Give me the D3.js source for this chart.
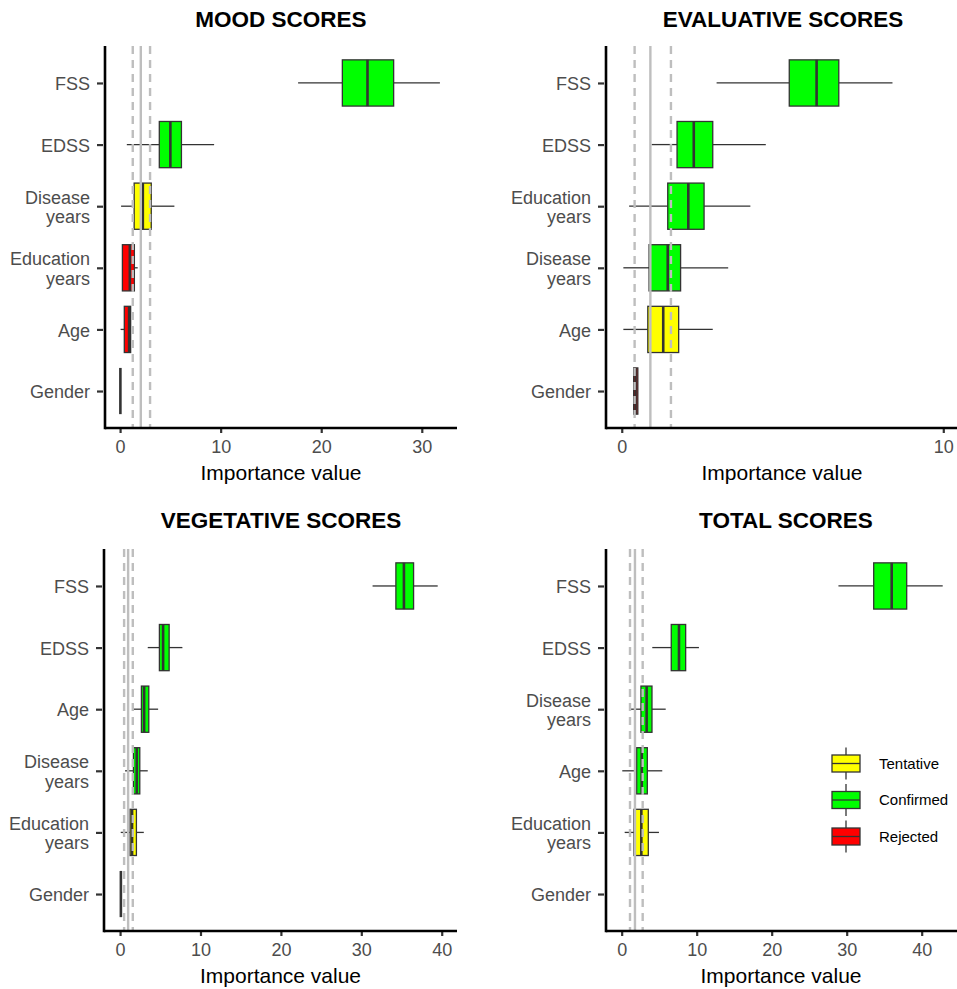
<!DOCTYPE html>
<html>
<head>
<meta charset="utf-8">
<script src="https://cdn.jsdelivr.net/npm/d3@7/dist/d3.min.js"></script>
<style>
  html, body { margin: 0; padding: 0; background: #ffffff; }
  svg { display: block; font-family: "Liberation Sans", Arial, Helvetica, sans-serif; }
</style>
</head>
<body>
<svg id="chart" width="957" height="989"></svg>
<script>
// ---- Data: Boruta importance summaries (whisker low, Q1, median, Q3, whisker high) ----

const moodTitle = "MOOD SCORES";
const moodCategories = ["FSS", "EDSS", "Disease\nyears", "Education\nyears", "Age", "Gender"];
const moodDecision = ["Confirmed", "Confirmed", "Tentative", "Rejected", "Rejected", "Rejected"];
const moodStats = [
  [17.7, 22.1, 24.6, 27.2, 31.8],
  [0.67, 3.9, 5.0, 6.1, 9.35],
  [0.1, 1.4, 2.26, 3.1, 5.4],
  [0.23, 0.23, 0.97, 1.42, 1.75],
  [0.05, 0.42, 0.9, 1.05, 1.05],
  [0.03, 0.03, 0.03, 0.03, 0.03]
];
const moodShadow = [1.26, 2.06, 2.98];   // shadow min, median, max
const moodTicks = [0, 10, 20, 30];

const evalTitle = "EVALUATIVE SCORES";
const evalCategories = ["FSS", "EDSS", "Education\nyears", "Disease\nyears", "Age", "Gender"];
const evalDecision = ["Confirmed", "Confirmed", "Confirmed", "Confirmed", "Tentative", "Rejected"];
const evalStats = [
  [2.95, 5.21, 6.06, 6.75, 8.42],
  [0.93, 1.72, 2.24, 2.83, 4.48],
  [0.23, 1.43, 2.07, 2.56, 4.0],
  [0.05, 0.85, 1.43, 1.83, 3.31],
  [0.05, 0.81, 1.29, 1.77, 2.83],
  [0.37, 0.37, 0.43, 0.5, 0.5]
];
const evalShadow = [0.40, 0.89, 1.53];
const evalTicks = [0, 10];

const vegTitle = "VEGETATIVE SCORES";
const vegCategories = ["FSS", "EDSS", "Age", "Disease\nyears", "Education\nyears", "Gender"];
const vegDecision = ["Confirmed", "Confirmed", "Confirmed", "Confirmed", "Tentative", "Rejected"];
const vegStats = [
  [31.4, 34.3, 35.3, 36.5, 39.5],
  [3.44, 4.89, 5.35, 6.1, 7.75],
  [1.58, 2.65, 2.99, 3.57, 4.73],
  [0.62, 1.66, 2.07, 2.45, 3.44],
  [0.08, 1.24, 1.49, 2.03, 2.95],
  [0.1, 0.1, 0.1, 0.1, 0.1]
];
const vegShadow = [0.5, 1.0, 1.58];
const vegTicks = [0, 10, 20, 30, 40];

const totalTitle = "TOTAL SCORES";
const totalCategories = ["FSS", "EDSS", "Disease\nyears", "Age", "Education\nyears", "Gender"];
const totalDecision = ["Confirmed", "Confirmed", "Confirmed", "Confirmed", "Tentative", "Rejected"];
const totalStats = [
  [28.9, 33.6, 36.0, 38.0, 42.8],
  [4.08, 6.61, 7.64, 8.53, 10.3],
  [1.01, 2.57, 3.33, 4.04, 5.87],
  [0.08, 2.0, 2.67, 3.42, 5.41],
  [0.4, 1.64, 2.62, 3.55, 4.97],
  null
];
const totalShadow = [1.11, 1.77, 2.8];
const totalTicks = [0, 10, 20, 30, 40];

const legendLabels = ["Tentative", "Confirmed", "Rejected"];
const decisionColors = ["#FFFF00", "#00FF00", "#FF0000"];

// ---- Drawing ----
const svg = d3.select("#chart");
const colorScale = d3.scaleOrdinal().domain(legendLabels).range(decisionColors);

const panels = [
  { title: moodTitle, cats: moodCategories, dec: moodDecision, stats: moodStats, shadow: moodShadow, ticks: moodTicks,
    x0: 105, x1: 457, dom: [-1.5, 33.5], y0: 46, y1: 428, titleY: 27, titleX: 281 },
  { title: evalTitle, cats: evalCategories, dec: evalDecision, stats: evalStats, shadow: evalShadow, ticks: evalTicks,
    x0: 606, x1: 960, dom: [-0.49, 10.52], y0: 46, y1: 428, titleY: 27, titleX: 783 },
  { title: vegTitle, cats: vegCategories, dec: vegDecision, stats: vegStats, shadow: vegShadow, ticks: vegTicks,
    x0: 104, x1: 457, dom: [-2.0, 41.9], y0: 549, y1: 931, titleY: 528, titleX: 281 },
  { title: totalTitle, cats: totalCategories, dec: totalDecision, stats: totalStats, shadow: totalShadow, ticks: totalTicks,
    x0: 606, x1: 958, dom: [-2.09, 44.84], y0: 549, y1: 931, titleY: 528, titleX: 786, legend: true }
];

const axisColor = "#000000";
const textGrey = "#4D4D4D";
const boxStroke = "#333333";

panels.forEach(p => {
  const g = svg.append("g");
  const x = d3.scaleLinear().domain(p.dom).range([p.x0, p.x1]);
  const y = d3.scalePoint().domain(p.cats).range([p.y0, p.y1]).padding(0.6);
  const step = y.step();
  const boxH = step * 0.75;

  // title
  g.append("text")
    .attr("x", p.titleX)
    .attr("y", p.titleY)
    .attr("text-anchor", "middle")
    .attr("font-size", 22.5)
    .attr("font-weight", "bold")
    .attr("fill", "#000")
    .text(p.title);

  // boxplots
  const rows = p.cats.map((c, i) => ({ cat: c, dec: p.dec[i], s: p.stats[i] })).filter(d => d.s);
  const bg = g.append("g");
  rows.forEach(d => {
    const cy = y(d.cat);
    const [lo, q1, med, q3, hi] = d.s;
    bg.append("line")
      .attr("x1", x(lo)).attr("x2", x(q1)).attr("y1", cy).attr("y2", cy)
      .attr("stroke", boxStroke).attr("stroke-width", 1.3);
    bg.append("line")
      .attr("x1", x(q3)).attr("x2", x(hi)).attr("y1", cy).attr("y2", cy)
      .attr("stroke", boxStroke).attr("stroke-width", 1.3);
    bg.append("rect")
      .attr("x", x(q1)).attr("y", cy - boxH / 2)
      .attr("width", Math.max(0, x(q3) - x(q1))).attr("height", boxH)
      .attr("fill", colorScale(d.dec))
      .attr("stroke", boxStroke).attr("stroke-width", 1.3);
    bg.append("line")
      .attr("x1", x(med)).attr("x2", x(med)).attr("y1", cy - boxH / 2).attr("y2", cy + boxH / 2)
      .attr("stroke", boxStroke).attr("stroke-width", 2.6);
  });

  // shadow attribute reference lines (drawn over the boxes)
  p.shadow.forEach((v, i) => {
    g.append("line")
      .attr("x1", x(v)).attr("x2", x(v)).attr("y1", p.y0).attr("y2", p.y1)
      .attr("stroke", "#BEBEBE").attr("stroke-width", 2.4)
      .attr("stroke-dasharray", i === 1 ? null : "8,6");
  });

  // x axis
  const xAxis = d3.axisBottom(x).tickValues(p.ticks).tickSize(5).tickPadding(6).tickFormat(d3.format("d"));
  const xa = g.append("g").attr("transform", `translate(0,${p.y1})`).call(xAxis);
  xa.select(".domain").remove();
  xa.append("line").attr("x1", p.x0).attr("x2", p.x1).attr("y1", 0).attr("y2", 0)
    .attr("stroke", axisColor).attr("stroke-width", 2.6);
  xa.selectAll(".tick line").attr("stroke", "#333").attr("stroke-width", 2.2);
  xa.selectAll(".tick text").attr("font-size", 18).attr("fill", textGrey)
    .attr("font-family", "Liberation Sans, Arial, sans-serif").attr("dy", null).attr("y", 25);

  // y axis
  const yAxis = d3.axisLeft(y).tickSize(6).tickFormat("");
  const ya = g.append("g").attr("transform", `translate(${p.x0},0)`).call(yAxis);
  ya.select(".domain").remove();
  ya.append("line").attr("x1", 0).attr("x2", 0).attr("y1", p.y0).attr("y2", p.y1 + 1.3)
    .attr("stroke", axisColor).attr("stroke-width", 2.6);
  ya.selectAll(".tick line").attr("stroke", "#333").attr("stroke-width", 2.2).attr("x1", -2).attr("x2", -8);
  ya.selectAll(".tick text").remove();

  // multi-line category labels, right aligned
  const lineH = 19.3, capH = 12.9;
  p.cats.forEach(c => {
    const lines = c.split("\n");
    const cy = y(c);
    const t = g.append("text")
      .attr("text-anchor", "end")
      .attr("font-size", 18)
      .attr("fill", textGrey);
    lines.forEach((ln, i) => {
      t.append("tspan")
        .attr("x", p.x0 - 15)
        .attr("y", cy + capH / 2 - (lines.length - 1) * lineH / 2 + i * lineH + 0.8)
        .text(ln);
    });
  });

  // x axis title
  g.append("text")
    .attr("x", (p.x0 + p.x1) / 2 - (p.x1 > 957 ? 1 : 0))
    .attr("y", p.y1 + 52)
    .attr("text-anchor", "middle")
    .attr("font-size", 21)
    .attr("fill", "#000")
    .text("Importance value");

  // legend inside the total panel
  if (p.legend) {
    const lg = g.append("g");
    const kx = 832, kw = 28, kh = 17, gap = 36.5, ly = 763.5;
    legendLabels.forEach((lab, i) => {
      const cy = ly + i * gap;
      const cx = kx + kw / 2;
      lg.append("line").attr("x1", cx).attr("x2", cx).attr("y1", cy - 16).attr("y2", cy + 16)
        .attr("stroke", boxStroke).attr("stroke-width", 1.3);
      lg.append("rect").attr("x", kx).attr("y", cy - kh / 2).attr("width", kw).attr("height", kh)
        .attr("fill", decisionColors[i]).attr("stroke", boxStroke).attr("stroke-width", 1.3);
      lg.append("line").attr("x1", kx).attr("x2", kx + kw).attr("y1", cy).attr("y2", cy)
        .attr("stroke", boxStroke).attr("stroke-width", 1.3);
      lg.append("text").attr("x", 879).attr("y", cy + 5.3)
        .attr("font-size", 15).attr("fill", "#000").text(lab);
    });
  }
});
</script>
</body>
</html>
